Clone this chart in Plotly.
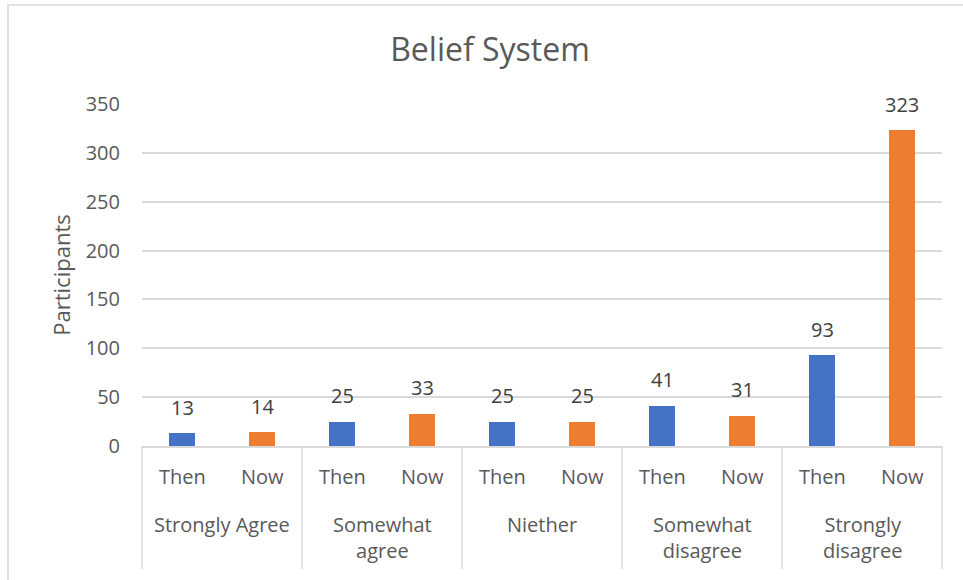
import plotly.graph_objects as go

# Survey responses, grouped by answer and period
groups = ["Strongly Agree", "Somewhat<br>agree", "Niether", "Somewhat<br>disagree", "Strongly<br>disagree"]
periods = ["Then", "Now"]
then_values = [13, 25, 25, 41, 93]
now_values = [14, 33, 25, 31, 323]
y_ticks = [0, 50, 100, 150, 200, 250, 300, 350]

BLUE = "#4472C4"
ORANGE = "#ED7D31"
TEXT = "#595959"
LABEL = "#404040"
GRID = "#D9D9D9"
FONT = "Open Sans"
FS = 20

W, H = 963, 580
L, R, T, B = 142, 942, 104, 446  # plot area in pixels


def px(x):
    return (x - L) / (R - L)


def py(y):
    return (B - y) / (B - T)


n = len(groups)
x_then = [2 * i for i in range(n)]
x_now = [2 * i + 1 for i in range(n)]

fig = go.Figure()
annotations = []
for xs, vals, color, name in [(x_then, then_values, BLUE, "Then"), (x_now, now_values, ORANGE, "Now")]:
    fig.add_trace(go.Bar(
        x=xs, y=vals, name=name, marker=dict(color=color, line=dict(width=0)),
        width=0.32,
    ))
    # value labels above bars
    for x, v in zip(xs, vals):
        annotations.append(dict(x=x, y=v, xref="x", yref="y", text=str(v),
                                showarrow=False, yanchor="middle", yshift=26,
                                font=dict(family=FONT, size=FS, color=LABEL)))

shapes = []
# two-level category labels
for i in range(n):
    for j, p in enumerate(periods):
        annotations.append(dict(x=2 * i + j, xref="x", y=py(477), yref="paper",
                                yanchor="middle", text=p, showarrow=False,
                                font=dict(family=FONT, size=FS, color=TEXT)))
    annotations.append(dict(x=2 * i + 0.5, xref="x", y=py(509), yref="paper",
                            yanchor="top", text=groups[i], showarrow=False,
                            font=dict(family=FONT, size=FS, color=TEXT)))
# group separators of the category axis
for k in range(n + 1):
    xs = L + k * (R - L) / n
    shapes.append(dict(type="line", xref="paper", yref="paper",
                       x0=px(xs), x1=px(xs), y0=py(446), y1=py(569),
                       line=dict(color=GRID, width=1.5)))
# chart area border
shapes.append(dict(type="rect", xref="paper", yref="paper",
                   x0=px(8), x1=px(975), y0=py(5), y1=py(600),
                   line=dict(color=GRID, width=1.5), layer="below"))

fig.update_layout(
    width=W, height=H,
    margin=dict(l=L, r=W - R, t=T, b=H - B),
    paper_bgcolor="white", plot_bgcolor="white",
    showlegend=False, bargap=0,
    title=dict(text="Belief System", x=490 / W, xref="container", xanchor="center",
               y=1 - 50 / H, yanchor="middle",
               font=dict(family=FONT, size=32, color=TEXT)),
    xaxis=dict(range=[-0.5, 2 * n - 0.5], showticklabels=False, showgrid=False,
               zeroline=False, showline=True, linecolor=GRID, linewidth=1.5,
               fixedrange=True),
    yaxis=dict(range=[0, 350], tickvals=y_ticks, showgrid=True, gridcolor=GRID,
               gridwidth=1.5, zeroline=False, showline=False, ticks="",
               ticklabelstandoff=21,
               tickfont=dict(family=FONT, size=FS, color=TEXT),
               title=dict(text="Participants", standoff=8,
                          font=dict(family=FONT, size=22, color=TEXT))),
    annotations=annotations, shapes=shapes,
)

fig.write_html("out.html")
